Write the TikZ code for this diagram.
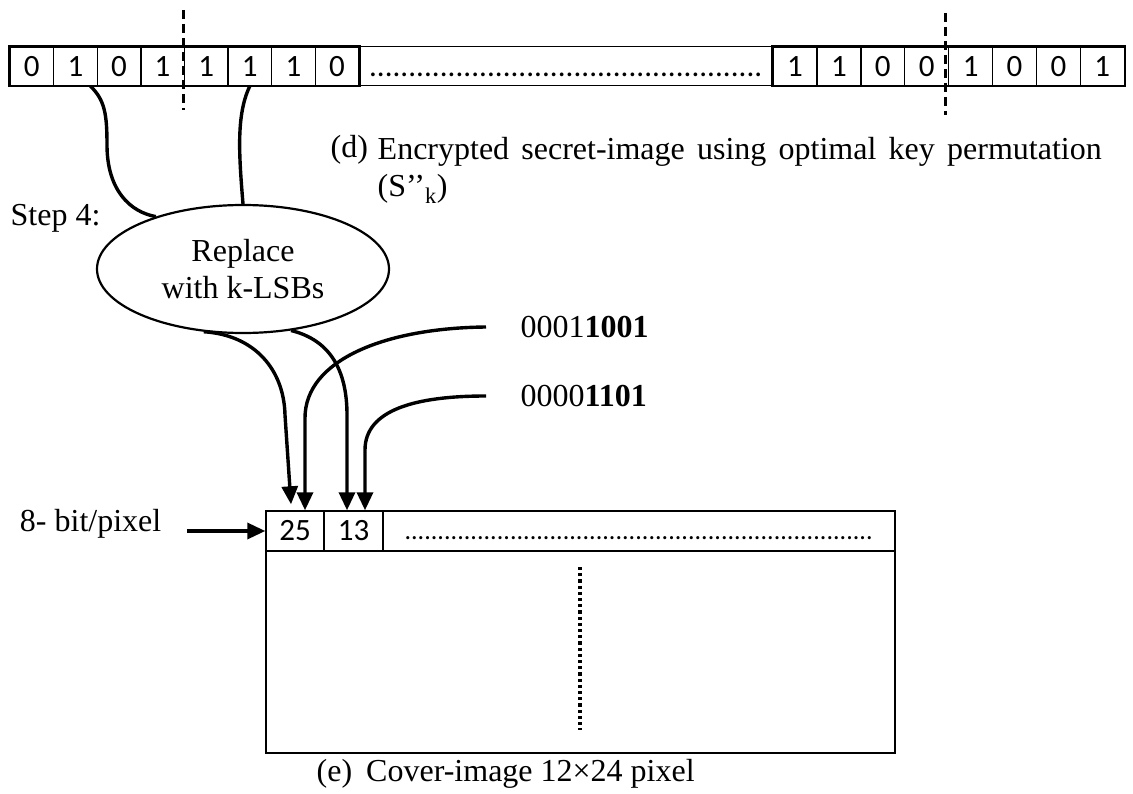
\documentclass[tikz,border=0pt]{standalone}
\usepackage{fontspec}
\setmainfont{Liberation Serif}
\newfontfamily\cellfont{Carlito}
\usetikzlibrary{arrows.meta, shapes.geometric}

% a run of periods of a given width
\newcommand{\periods}[1]{\makebox[#1]{\xleaders\hbox{.}\hfill}}

\tikzset{
  every picture/.style={line width=1.4pt},
  lbl/.style={font=\fontsize{32}{37}\selectfont, inner sep=0pt},
  bit/.style={draw, minimum width=43.6pt, minimum height=38.5pt, inner sep=0pt, font=\cellfont\fontsize{31}{31}\selectfont},
  pix/.style={bit, minimum height=40pt},
  wire/.style={line width=3.4pt},
  arrow/.style={wire, -{Triangle[length=18pt,width=16pt]}},
  cut/.style={line width=3.8pt, dash pattern=on 9pt off 5pt},
  dotline/.style={line width=3.2pt, dash pattern=on 3.2pt off 3pt},
}

\begin{document}
\begin{tikzpicture}[x=1pt, y=-1pt]
  \useasboundingbox (0,0) rectangle (1133,794);
  % encrypted secret bits
  \foreach \v [count=\i from 0] in {0,1,0,1,1,1,1,0}
    \node[bit] (l\i) at ({31.8+43.6*\i},66.2) {\v};
  \node[bit, minimum width=414pt, line width=1pt] (gap) at (566,66.2) {\vphantom{0}\periods{394pt}};
  \foreach \v [count=\i from 0] in {1,1,0,0,1,0,0,1}
    \node[bit, minimum width=43.9pt] (r\i) at ({795+43.9*\i},66.2) {\v};
  \draw[line width=2.2pt] (l0.north west) rectangle (l7.south east);
  \draw[line width=2.2pt] (r0.north west) rectangle (r7.south east);
  \draw[cut] (183.5,10) -- (183.5,110);
  \draw[cut] (945.5,13) -- (945.5,115);

  \node[lbl, anchor=north west, text width=724pt, align=justify] (capdtext) at (377,137)
    {Encrypted secret-image using optimal key permutation (S\char"2019\char"2019\textsubscript{k})};
  \node[lbl, anchor=base west] (capd) at (330,158) {(d)};

  % step 4
  \node[lbl, anchor=west] (step) at (10,218) {Step 4:};
  \node[lbl, draw, ellipse, line width=2.2pt, minimum width=292pt, minimum height=128pt, align=center] (repl) at (243,269) {Replace\\with k-LSBs};
  \draw[wire] ([xshift=15pt]l1.south) .. controls (105,100) and (107,115) .. (107,145)
    .. controls (107,190) and (130,212) .. (repl.149);
  \draw[wire] (l5.south) .. controls (236,115) and (239,155) .. (repl.north);

  \node[lbl, anchor=west] (v1) at (520,327) {0001\textbf{1001}};
  \node[lbl, anchor=west] (v2) at (520,396) {0000\textbf{1101}};

  % cover image
  \node[draw, minimum width=629pt, minimum height=242pt, inner sep=0pt] (cover) at (580.5,632) {};
  \node[pix, minimum width=58pt] (p25) at (295,531) {25};
  \node[pix, minimum width=59pt] (p13) at (353.5,531) {13};
  \node[pix, minimum width=512pt, font=\cellfont\fontsize{26}{26}\selectfont] (pdots) at (639,531) {\vphantom{0}\periods{469pt}\hspace{6pt}};
  \draw[dotline] (580,567) -- (580,730);
  \node[lbl, anchor=west] (cape) at (316,774) {(e)\hspace{14pt}Cover-image 12×24 pixel};

  \node[lbl, anchor=east] (bpp) at (162,524) {8- bit/pixel};
  \draw[arrow] (bpp.east |- p25.west) ++(25,0) -- (p25.west);

  \draw[arrow] (repl.238) .. controls (255,335) and (284,370) .. (285,415) -- ([shift={(-4,-6)}]p25.north);
  \draw[arrow] (repl.308) .. controls (330,340) and (347,370) .. (347,415) -- ([xshift=-6.5pt]p13.north);
  \draw[arrow] ([xshift=-34pt]v1.west) .. controls (385,328) and (305,360) .. (305,418) -- ([xshift=10pt]p25.north);
  \draw[arrow] ([xshift=-34pt]v2.west) .. controls (415,396) and (365,410) .. (365,450) -- ([xshift=11.5pt]p13.north);
\end{tikzpicture}
\end{document}
